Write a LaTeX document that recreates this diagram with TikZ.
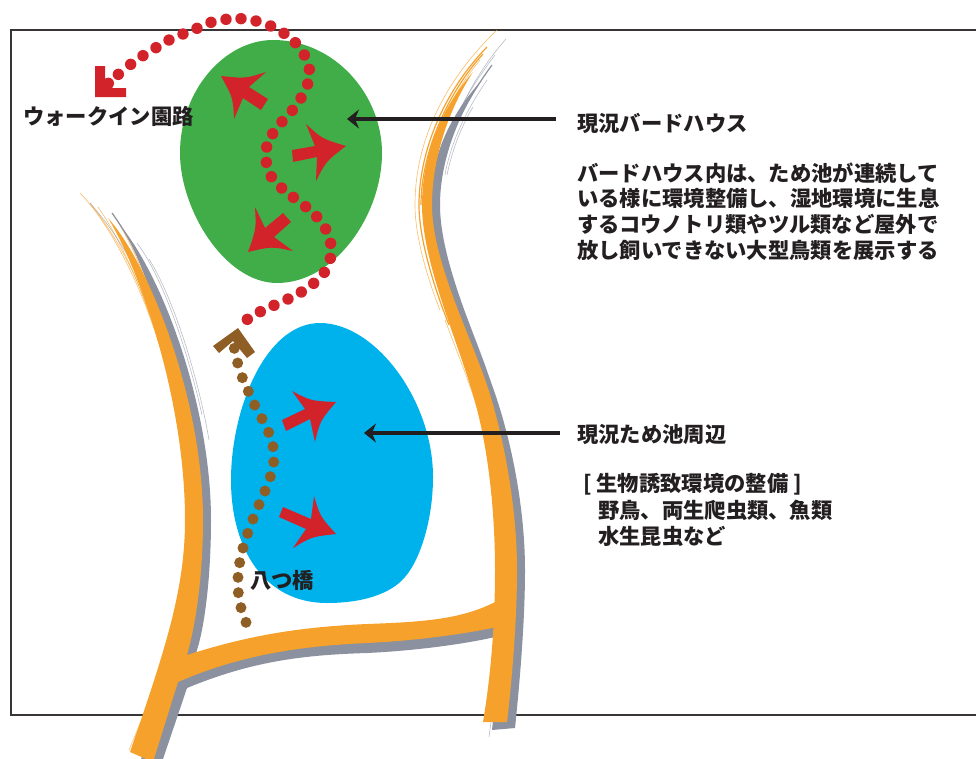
\documentclass[tikz,border=0pt]{standalone}
\usepackage{fontspec}
\setmainfont{Noto Sans CJK JP}
\usetikzlibrary{arrows.meta,calc}
\definecolor{roadc}{HTML}{F5A12B}
\definecolor{shadowc}{HTML}{8C919F}
\definecolor{greenc}{HTML}{41AD49}
\definecolor{bluec}{HTML}{00B2EC}
\definecolor{redc}{HTML}{D2232A}
\definecolor{brownc}{HTML}{8F5E24}
\definecolor{inkc}{HTML}{231F20}
\tikzset{
  lab/.style={anchor=west,inner sep=0pt,text=inkc,font=\fontsize{21.3}{21.3}\selectfont\bfseries},
  pointer/.style={draw=inkc,line width=4pt,-{Stealth[length=12pt,width=19pt,inset=4pt]}},
  hairo/.style={draw=roadc,line width=.6pt,opacity=.7},
  hairg/.style={draw=shadowc,line width=.6pt,opacity=.6},
  hairob/.style={draw=roadc,line width=1.2pt},
  hairgb/.style={draw=shadowc,line width=1.2pt},
}
\newcommand\flecha[7]{\fill[redc] #1 .. controls ($#1!.5!#2!.35!#3$) .. #2 -- #3 -- #4 -- #5 -- #6 -- #7 .. controls ($#1!.5!#7!.35!#6$) .. #1 -- cycle;}
\begin{document}
\begin{tikzpicture}[x=1pt,y=-1pt]
\useasboundingbox (0,0) rectangle (976,758);
\clip (0,0) rectangle (976,758);
% frame
\draw[inkc!90,line width=1.8pt] (976,30) -- (11,30) -- (11,715) -- (976,715);
% ponds
\fill[greenc] (273,40) .. controls (335,40) and (382,95) .. (382,153)
  .. controls (382,215) and (335,283) .. (277,283)
  .. controls (225,283) and (180,210) .. (180,153)
  .. controls (180,90) and (225,40) .. (273,40) -- cycle;
\fill[bluec] (320,323) .. controls (375,323) and (433,400) .. (433,477)
  .. controls (433,520) and (420,560) .. (405,577)
  .. controls (390,595) and (360,603) .. (327,603)
  .. controls (265,603) and (231,550) .. (231,480)
  .. controls (231,410) and (265,323) .. (320,323) -- cycle;
% road shadows
\fill[shadowc] (120,225) .. controls (165,280) and (211,410) .. (211,520)
  .. controls (211,575) and (205,625) .. (197,650) -- (187,688) -- (162,762) -- (140,762) -- (170,680)
  .. controls (180,640) and (190,580) .. (190,520)
  .. controls (190,400) and (150,270) .. (120,225) -- cycle;
\fill[shadowc] (482,80) .. controls (455,120) and (440,165) .. (440,205)
  .. controls (440,260) and (475,335) .. (492,385)
  .. controls (512,440) and (525,510) .. (525,570)
  .. controls (525,620) and (520,680) .. (515,728) -- (492,730)
  .. controls (497,680) and (502,630) .. (502,570)
  .. controls (500,510) and (490,440) .. (475,385)
  .. controls (460,335) and (430,260) .. (430,205)
  .. controls (430,165) and (445,120) .. (482,80) -- cycle;
\fill[shadowc] (175,670) .. controls (240,648) and (300,635) .. (367,632)
  .. controls (420,630) and (460,628) .. (495,610) -- (495,637)
  .. controls (460,645) and (410,651) .. (367,653)
  .. controls (300,655) and (250,662) .. (187,688) -- cycle;
% hairlines, left road
\draw[hairo] (80,193) .. controls (125,240) and (165,340) .. (177,420);
\draw[hairo] (98,207) .. controls (135,260) and (170,360) .. (181,440);
\draw[hairo] (112,213) .. controls (145,260) and (172,350) .. (184,440);
\draw[hairo] (90,203) .. controls (115,235) and (135,270) .. (150,315);
\draw[hairg] (90,203) .. controls (118,235) and (140,272) .. (155,315);
\draw[hairgb] (112,213) .. controls (135,245) and (155,285) .. (165,325);
\draw[hairg] (137,243) .. controls (165,280) and (190,360) .. (202,415);
\draw[hairg] (149,259) .. controls (172,295) and (198,375) .. (209,440);
% hairlines, right road
\draw[hairo] (497,30) .. controls (450,75) and (415,135) .. (415,205) .. controls (415,240) and (430,285) .. (440,310);
\draw[hairob] (487,47) .. controls (445,90) and (419,150) .. (419,205) .. controls (419,240) and (435,290) .. (449,325);
\draw[hairob] (483,54) .. controls (450,90) and (421,150) .. (421,205);
\draw[hairo] (480,60) .. controls (455,90) and (435,130) .. (427,165);
\draw[hairo] (445,320) .. controls (460,360) and (475,395) .. (484,433);
\draw[hairg] (506,39) .. controls (465,85) and (438,150) .. (438,205) .. controls (438,260) and (470,320) .. (487,372);
\draw[hairg] (495,55) .. controls (470,88) and (448,125) .. (438,165);
\draw[hairgb] (492,65) .. controls (470,95) and (450,130) .. (440,165);
\draw[hairg] (487,80) .. controls (465,112) and (450,145) .. (445,175);
\draw[hairg] (473,107) .. controls (462,125) and (452,150) .. (447,175);
\draw[hairg] (489,737) -- (491,722);
\draw[hairo] (150,700) -- (129,750);
% roads
\fill[roadc] (108,218) .. controls (150,265) and (203,400) .. (203,520)
  .. controls (203,570) and (197,620) .. (187,655) -- (178,682) -- (153,762) -- (130,752)
  .. controls (165,650) and (185,590) .. (185,520)
  .. controls (185,400) and (140,270) .. (108,218) -- cycle;
\fill[roadc] (473,72) .. controls (445,115) and (432,165) .. (432,205)
  .. controls (432,260) and (470,335) .. (487,385)
  .. controls (505,440) and (517,510) .. (517,570)
  .. controls (517,620) and (512,680) .. (507,722) -- (483,722)
  .. controls (490,680) and (495,630) .. (495,570)
  .. controls (495,510) and (488,440) .. (470,385)
  .. controls (455,335) and (422,260) .. (422,205)
  .. controls (422,165) and (435,115) .. (473,72) -- cycle;
\fill[roadc] (175,662) -- (187,655) .. controls (250,635) and (300,627) .. (367,624)
  .. controls (420,622) and (460,620) .. (495,602) -- (497,627)
  .. controls (460,635) and (410,641) .. (367,643)
  .. controls (300,646) and (240,655) .. (178,682) -- cycle;
% labels and pointers
\node[lab] (birdhouse) at (577,123) {現況バードハウス};
\node[lab] (bh1) at (577,173) {バードハウス内は、ため池が連続して};
\node[lab] (bh2) at (577,198) {いる様に環境整備し、湿地環境に生息};
\node[lab] (bh3) at (577,224) {するコウノトリ類やツル類など屋外で};
\node[lab] (bh4) at (577,250) {放し飼いできない大型鳥類を展示する};
\node[lab] (pond) at (577,434) {現況ため池周辺};
\node[lab] (pd1) at (583,484) {[ 生物誘致環境の整備 ]};
\node[lab] (pd2) at (598,510) {野鳥、両生爬虫類、魚類};
\node[lab] (pd3) at (598,536) {水生昆虫など};
\coordinate (birdstart) at (556,119);
\coordinate (birdend) at (347,119);
\coordinate (pondstart) at (560,433);
\coordinate (pondend) at (364,433);
\draw[pointer] (birdstart) -- (birdend);
\draw[pointer] (pondstart) -- (pondend);
% red arrows
\flecha{(221,76)}{(266,72)}{(249,87)}{(268,99)}{(261,110)}{(243,98)}{(234,119)}
\flecha{(346,146)}{(306,124)}{(315,146)}{(292,150)}{(293,162)}{(317,157)}{(316,181)}
\flecha{(248,252)}{(255,207)}{(265,228)}{(283,213)}{(291,222)}{(274,237)}{(293,251)}
\flecha{(336,402)}{(292,391)}{(305,409)}{(282,420)}{(286,431)}{(310,419)}{(315,442)}
\flecha{(336,534)}{(314,496)}{(311,519)}{(283,507)}{(279,517)}{(306,529)}{(293,548)}
% walking route
\fill[redc] (95,66) -- (105,66) -- (105,83) -- (113,88) -- (126,88) -- (126,97) -- (95,97) -- cycle;
\foreach \a/\b in {145/250,175/223,212/193,249/167,288/143,327/120,369/102,411/85,453/67,498/58,543/56,588/63,632/78,672/100,706/128,733/165,748/208,743/252,723/294,697/331,666/365,638/401,620/441,619/487,634/530,665/564,700/592,737/620,770/650,797/687,812/730,811/775,793/817,761/850,724/876,684/897,642/916,601/935,562/958}{
  \fill[redc] ({60+\a/3},{\b/3}) circle (5.7);
}
% bridge route
\fill[brownc] (213,346) -- (238,328) -- (255,352) -- (247,358) -- (233,341) -- (219,353) -- cycle;
\foreach \a/\b in {403/85,413/129,427/173,445/214,464/255,486/296,506/337,519/380,521/426,511/470,495/513,477/554,459/597,443/640,429/684,419/728,414/772,415/818,423/863,438/907}{
  \fill[brownc] ({100+\a/3},{320+\b/3}) circle (5.5);
}
\node[lab] (walkin) at (23,116) {ウォークイン園路};
\node[lab] (yatsu) at (250,580) {八つ橋};
\end{tikzpicture}
\end{document}
